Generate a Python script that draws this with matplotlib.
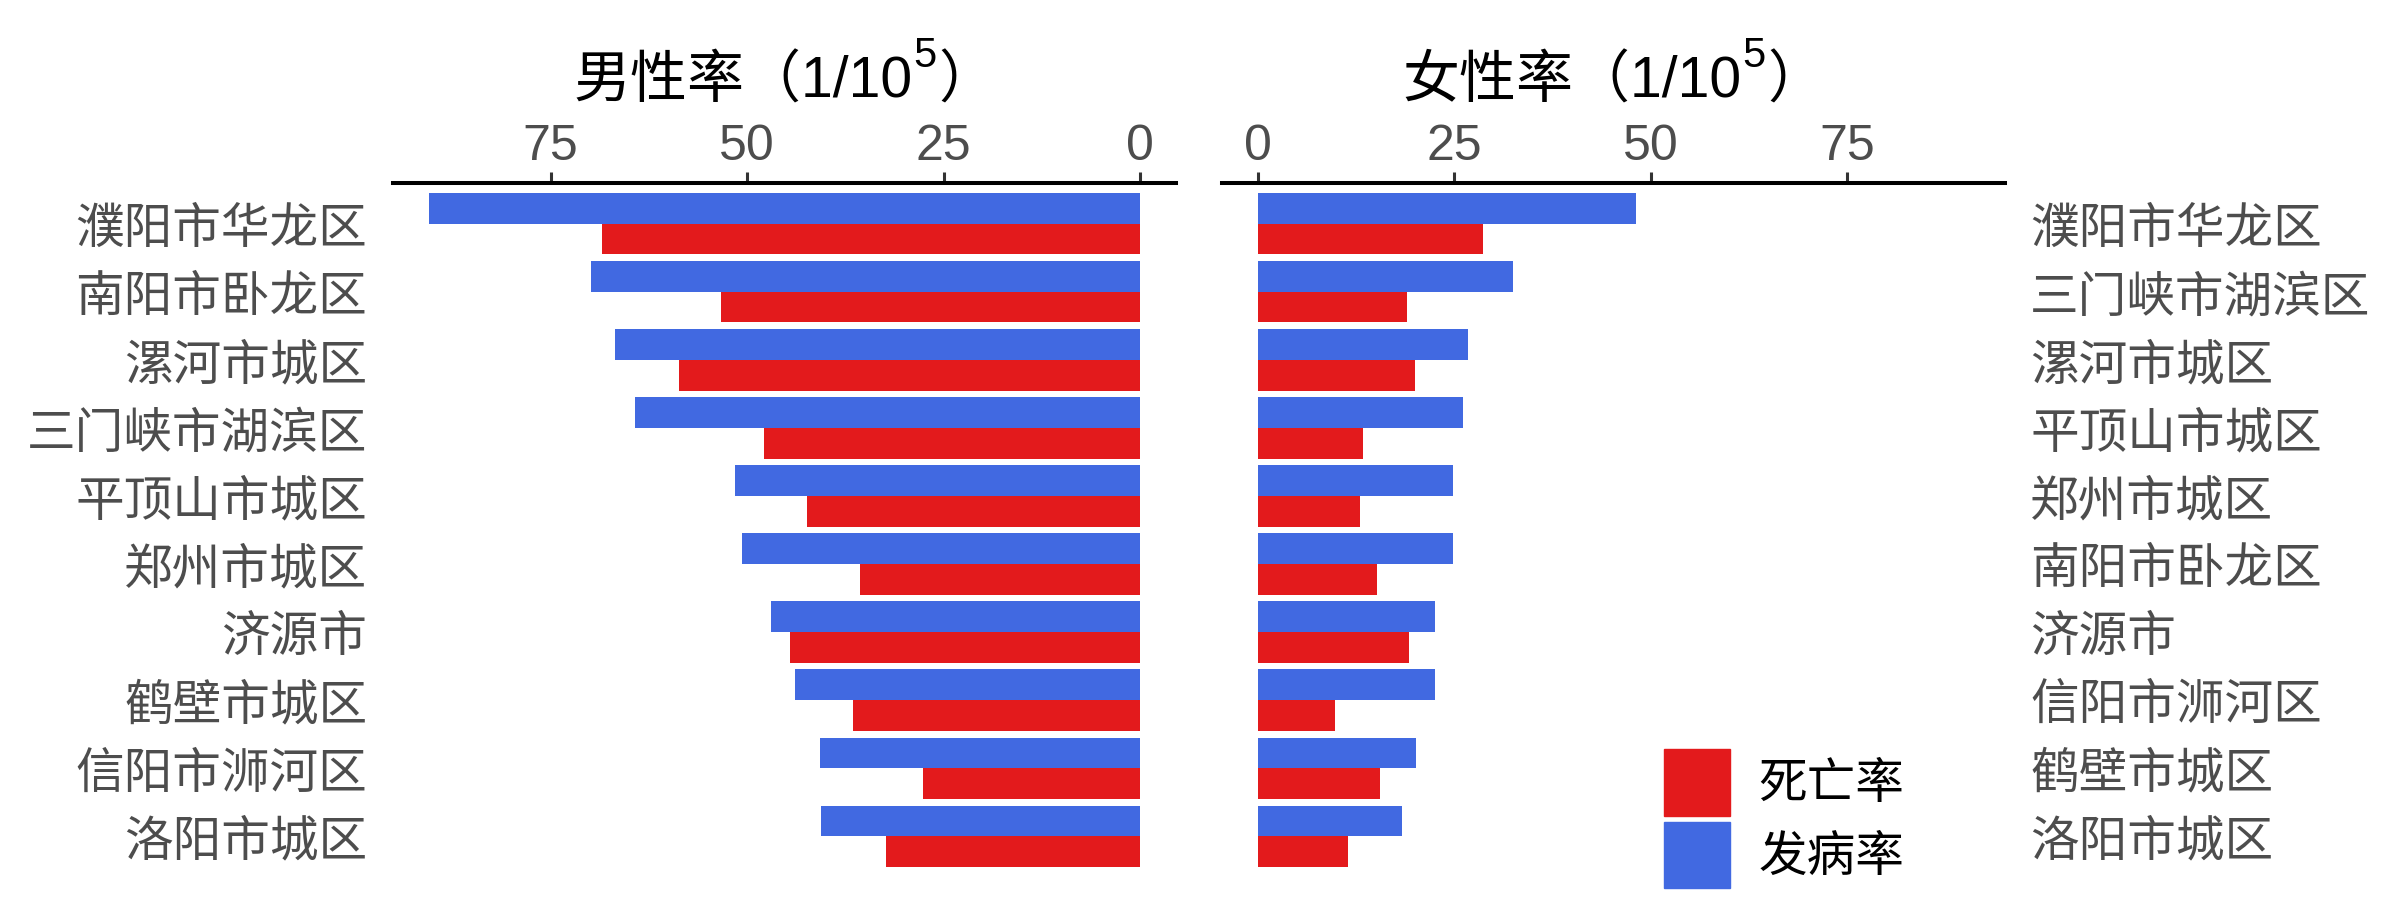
import matplotlib
matplotlib.use('Agg')
import matplotlib.pyplot as plt
import numpy as np
from matplotlib.patches import Patch

# data (rate per 100 000)
male_regions = ['濮阳市华龙区', '南阳市卧龙区', '漯河市城区', '三门峡市湖滨区', '平顶山市城区',
                '郑州市城区', '济源市', '鹤壁市城区', '信阳市浉河区', '洛阳市城区']
male_incidence = [90.5, 69.9, 66.8, 64.3, 51.6, 50.7, 47.0, 43.9, 40.7, 40.6]
male_mortality = [68.4, 53.3, 58.7, 47.8, 42.4, 35.7, 44.5, 36.6, 27.6, 32.4]

female_regions = ['濮阳市华龙区', '三门峡市湖滨区', '漯河市城区', '平顶山市城区', '郑州市城区',
                  '南阳市卧龙区', '济源市', '信阳市浉河区', '鹤壁市城区', '洛阳市城区']
female_incidence = [48.1, 32.5, 26.8, 26.1, 24.8, 24.8, 22.6, 22.5, 20.1, 18.3]
female_mortality = [28.6, 19.0, 20.0, 13.4, 13.0, 15.2, 19.2, 9.9, 15.6, 11.5]

x_ticks = [0, 25, 50, 75]
legend_labels = ['死亡率', '发病率']

RED = '#E31A1C'
BLUE = '#4169E1'
GREY = '#4D4D4D'
MIXED = ['Liberation Sans', 'Noto Sans CJK SC']

plt.rcParams['font.family'] = ['Noto Sans CJK SC', 'DejaVu Sans']

# shared x range, ggplot style 5% expansion
xmax = max(max(male_incidence), max(female_incidence))
pad = 0.05 * xmax
xlim = (-pad, xmax + pad)

W, H = 2400, 900
fig = plt.figure(figsize=(24, 9), dpi=100)
bottom, height = 23 / H, 694 / H
ax_m = fig.add_axes([393 / W, bottom, 783 / W, height])
ax_f = fig.add_axes([1222 / W, bottom, 783 / W, height])


def draw_panel(ax, regions, inc, mort):
    y = np.arange(len(regions))
    ax.barh(y - 0.225, inc, height=0.45, color=BLUE)
    ax.barh(y + 0.225, mort, height=0.45, color=RED)
    ax.set_ylim(len(regions) - 0.4, -0.6)
    ax.set_yticks(y, regions)
    ax.tick_params(axis='y', length=0, pad=18.5, labelsize=35, labelcolor=GREY)
    ax.xaxis.tick_top()
    ax.set_xticks(x_ticks)
    ax.tick_params(axis='x', length=8, width=2.2, color='#333333', pad=1,
                   labelsize=36, labelcolor=GREY)
    for lab in ax.get_xticklabels():
        lab.set_fontfamily('Liberation Sans')
    for side in ['left', 'right', 'bottom']:
        ax.spines[side].set_visible(False)
    ax.spines['top'].set_linewidth(2.9)
    ax.spines['top'].set_color('black')


draw_panel(ax_m, male_regions, male_incidence, male_mortality)
ax_m.set_xlim(xlim[1], xlim[0])

draw_panel(ax_f, female_regions, female_incidence, female_mortality)
ax_f.set_xlim(*xlim)
ax_f.yaxis.tick_right()
ax_f.tick_params(axis='y', length=0, pad=18)


# title "xx率（1/10^5）" built from pieces so the superscript sits high like the original
def panel_title(cx_px, head):
    base_y = 1 - 98 / H
    sup_y = 1 - 67 / H
    t1 = fig.text(0, base_y, head + '（1/10', fontsize=41, family=MIXED, va='baseline')
    t2 = fig.text(0, sup_y, '5', fontsize=30, family='Liberation Sans', va='baseline')
    t3 = fig.text(0, base_y, '）', fontsize=41, va='baseline')
    r = fig.canvas.get_renderer()
    w1 = t1.get_window_extent(r).width
    w2 = t2.get_window_extent(r).width
    w3 = t3.get_window_extent(r).width
    gap = 2
    x0 = cx_px - (w1 + w2 + gap + w3) / 2
    t1.set_x(x0 / W)
    t2.set_x((x0 + w1) / W)
    t3.set_x((x0 + w1 + w2 + gap) / W)


panel_title((393 + 1176) / 2, '男性率')
panel_title((1222 + 2005) / 2, '女性率')

handles = [Patch(color=RED, label=legend_labels[0]),
           Patch(color=BLUE, label=legend_labels[1])]
fig.legend(handles=handles, loc='lower left', bbox_to_anchor=(1664 / W, 12 / H),
           frameon=False, fontsize=35, handlelength=1.36, handleheight=1.716,
           handletextpad=0.58, labelspacing=0.13, borderpad=0, borderaxespad=0)

fig.savefig('out.png', dpi=100)
